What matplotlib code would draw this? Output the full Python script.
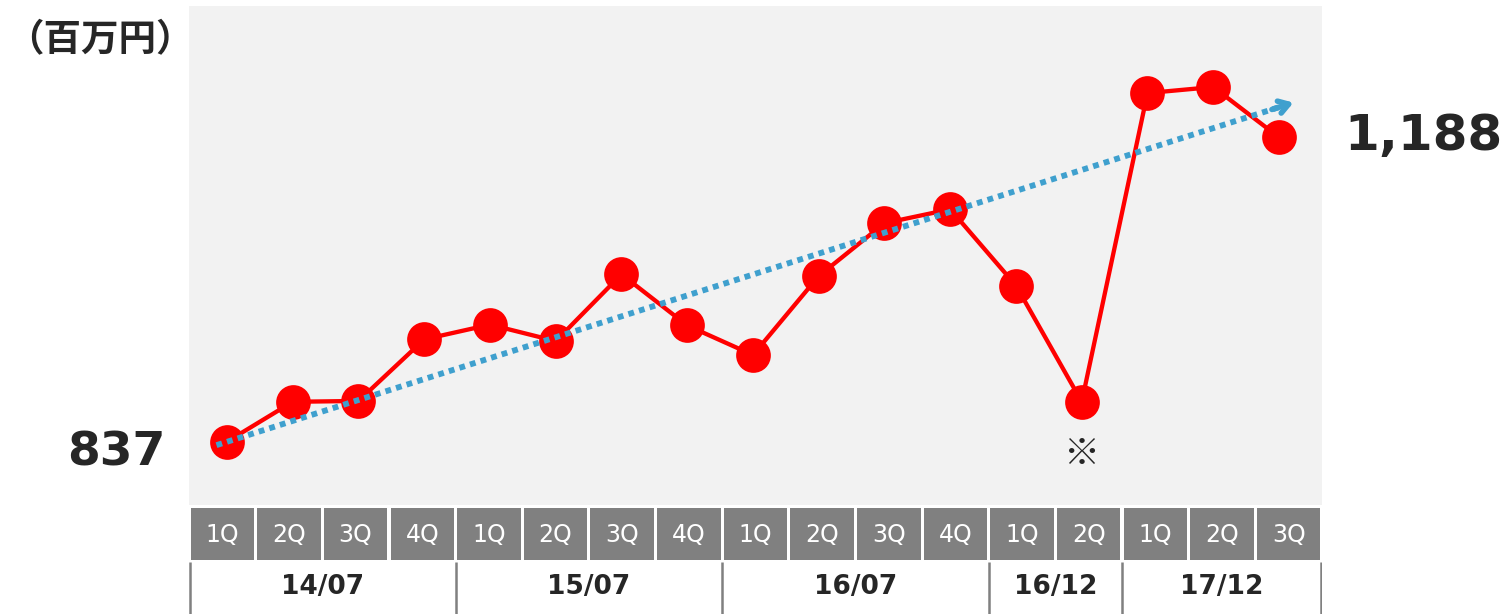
import matplotlib
matplotlib.use("Agg")
import matplotlib.pyplot as plt
from matplotlib.patches import Rectangle

# ---- data ----
quarters = ["1Q", "2Q", "3Q", "4Q", "1Q", "2Q", "3Q", "4Q", "1Q", "2Q", "3Q", "4Q",
            "1Q", "2Q", "1Q", "2Q", "3Q"]
values = [837, 883, 884, 955, 972, 953, 1030, 971, 937, 1028, 1089, 1105,
          1017, 883, 1239, 1246, 1188]
fiscal_years = ["14/07", "15/07", "16/07", "16/12", "17/12"]
fiscal_counts = [4, 4, 4, 2, 3]
trend_x = [-0.16, 16.22]
trend_y = [833, 1228]
first_label = "837"
last_label = "1,188"
unit_label = "（百万円）"
note_mark = "※"
note_index = 13

RED = "#FF0000"
BLUE = "#3FA0CE"
BG = "#F2F2F2"
GRAY = "#808080"
TXT = "#262626"

W, H = 1507, 614
fig = plt.figure(figsize=(W / 100, H / 100), dpi=100)

def fx(px):
    return px / W

def fy(py):
    return 1 - py / H

# main plot
left, right, top, bottom = 189, 1322, 6, 505
ax = fig.add_axes([fx(left), fy(bottom), fx(right - left), (bottom - top) / H])
ax.set_facecolor(BG)
for s in ax.spines.values():
    s.set_visible(False)
ax.set_xticks([])
ax.set_yticks([])

n = len(values)
xs = list(range(n))
sp = 65.75
ax.set_xlim(-(227 - left) / sp, (n - 1) + (right - 1279) / sp)
ax.set_ylim(764, 1339.4)

ax.plot(xs, values, color=RED, lw=3.1, zorder=3, solid_capstyle="round")
ax.plot(xs, values, "o", color=RED, ms=25, mec="none", zorder=4)

# trend dotted line with arrow head
ax.plot(trend_x, trend_y, color=BLUE, lw=4.2, linestyle=(0, (1, 0.9)),
        dash_capstyle="butt", zorder=5)
dx = trend_x[1] - trend_x[0]
dy = trend_y[1] - trend_y[0]
ax.annotate("", xy=(trend_x[1], trend_y[1]),
            xytext=(trend_x[1] - dx * 0.02, trend_y[1] - dy * 0.02),
            arrowprops=dict(arrowstyle="->,head_length=0.7,head_width=0.45",
                            color=BLUE, lw=4.0, shrinkA=0, shrinkB=0),
            zorder=5)

ax.text(note_index, values[note_index] - 61, note_mark, ha="center", va="center",
        fontsize=26, fontweight="bold", color=TXT,
        family=["Noto Sans CJK JP", "DejaVu Sans"])

# labels outside
fig.text(fx(166), fy(453), first_label, ha="right", va="center", fontsize=34,
         fontweight="bold", color=TXT, family="DejaVu Sans")
fig.text(fx(1503), fy(136), last_label, ha="right", va="center", fontsize=36,
         fontweight="bold", color=TXT, family="DejaVu Sans")
fig.text(fx(6), fy(40), unit_label, ha="left", va="center", fontsize=27,
         fontweight="bold", color=TXT, family=["Noto Sans CJK JP", "DejaVu Sans"])

# quarter boxes and fiscal year row
bx = fig.add_axes([fx(left), 0, fx(right - left), (H - 508) / H])
bx.set_xlim(0, n)
bx.set_ylim(H, 508)
bx.axis("off")
g = 0.024
for i, q in enumerate(quarters):
    bx.add_patch(Rectangle((i + g, 508), 1 - 2 * g, 52, facecolor=GRAY,
                           edgecolor="none"))
    bx.text(i + 0.5, 535, q, ha="center", va="center", color="white",
            fontsize=17, family="DejaVu Sans")

pos = 0
bounds = [0]
for fy_lab, c in zip(fiscal_years, fiscal_counts):
    bx.text(pos + c / 2, 587, fy_lab, ha="center", va="center", fontsize=19,
            fontweight="bold", color=TXT, family="DejaVu Sans")
    pos += c
    bounds.append(pos)
for b in bounds:
    xb = min(max(b, 0.02), n - 0.02)
    bx.plot([xb, xb], [562, H], color=GRAY, lw=1.8, solid_capstyle="butt")

fig.savefig("out.png", dpi=100)
